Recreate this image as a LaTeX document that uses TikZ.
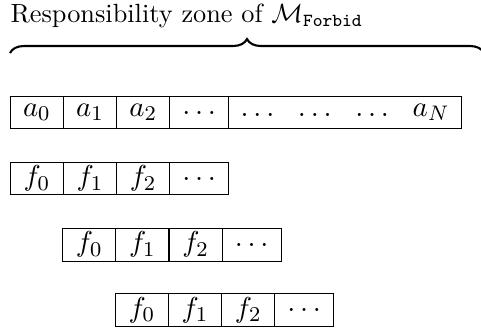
\documentclass[tikz,border=0pt]{standalone}
\usetikzlibrary{positioning,decorations.pathreplacing}
\tikzset{cell/.style={draw,minimum height=12.5pt,minimum width=20.2pt,inner sep=0pt,outer sep=0pt,font=\fontsize{11}{13}\selectfont},
  dotcell/.style={cell,minimum width=22.4pt}}
\newcommand{\gap}{\hspace{7.2pt}}

\begin{document}
\begin{tikzpicture}[x=0.38pt,y=-0.38pt]
\useasboundingbox (0,0) rectangle (481,329);
\node[anchor=base west,inner sep=0pt] (title) at (10,23) {Responsibility zone of $\mathcal{M}_{\mathtt{Forbid}}$};
\coordinate (bl) at (10,53);\coordinate (br) at (484,53);
\draw[thick,decorate,decoration={brace,amplitude=5.3pt}] (bl)--(br);
% input word
\node[cell,anchor=west] (a0) at (10.3,112.5) {$a_0$};
\node[cell,right=0pt of a0] (a1) {$a_1$};
\node[cell,right=0pt of a1] (a2) {$a_2$};
\node[dotcell,right=0pt of a2] (a3) {$\dots$};
\node[cell,minimum width=88.4pt,right=0pt of a3] (aN) {$\dots\gap\dots\gap\dots\gap a_N$};
% shifted copies of the forbidden word
\foreach \r/\x/\y in {1/10.3/178.5,2/62.7/244.7,3/115.3/310}{
  \node[cell,anchor=west] (f\r0) at (\x,\y) {$f_0$};
  \node[cell,right=0pt of f\r0] (f\r1) {$f_1$};
  \node[cell,right=0pt of f\r1] (f\r2) {$f_2$};
  \node[dotcell,right=0pt of f\r2] (f\r3) {$\dots$};
}
\end{tikzpicture}
\end{document}
